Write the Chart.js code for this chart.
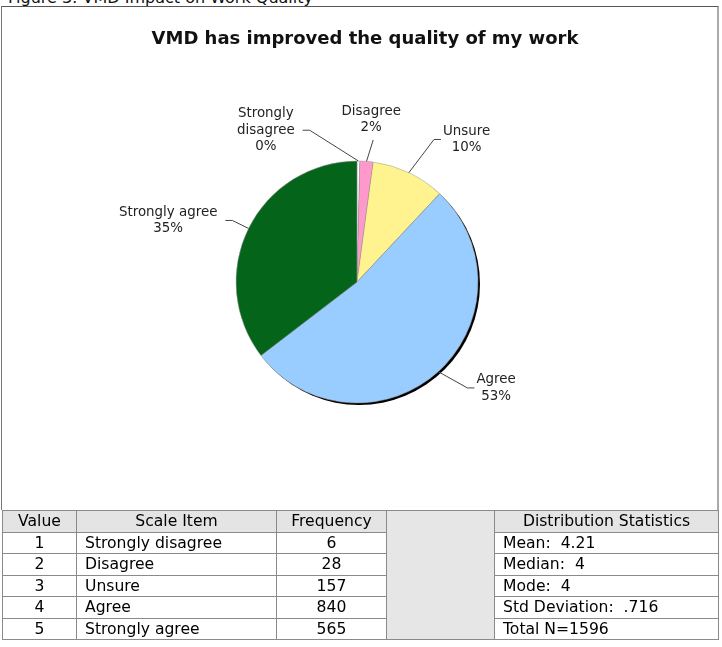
<!DOCTYPE html>
<html>
<head>
<meta charset="utf-8">
<script src="https://cdn.jsdelivr.net/npm/chart.js@4.4.1/dist/chart.umd.min.js"></script>
<style>
  html, body { margin: 0; padding: 0; background: #fff; }
  body { width: 722px; height: 647px; position: relative; overflow: hidden; font-family: "DejaVu Sans", sans-serif; }
  #caption { position: absolute; left: 8px; top: -10px; font-size: 16px; line-height: 16px; color: #111; white-space: nowrap; }
  #frame { position: absolute; left: 1px; top: 6px; width: 718px; height: 504px; border-top: 1px solid #555; border-left: 1px solid #777; border-right: 2px solid #aaa; box-sizing: border-box; }
  #pie { position: absolute; left: 0; top: 0; }
  #stats { position: absolute; left: 2px; top: 510px; border-collapse: collapse; table-layout: fixed; font-size: 15.6px; color: #000; }
  #stats td { border: 1px solid #8a8a8a; height: 20.5px; padding: 0; line-height: 20px; white-space: pre; overflow: hidden; }
  #stats .hd { background: #e4e4e4; text-align: center; }
  #stats .c { text-align: center; }
  #stats .l { padding-left: 8px; }
  #stats .blank { background: #e6e6e6; }
</style>
</head>
<body>
<div id="caption">Figure 3: VMD Impact on Work Quality</div>
<canvas id="pie" width="722" height="510"></canvas>
<div id="frame"></div>
<table id="stats"></table>
<script>
// survey data
var scaleValues = [1, 2, 3, 4, 5];
var scaleItems = ['Strongly disagree', 'Disagree', 'Unsure', 'Agree', 'Strongly agree'];
var frequencies = [6, 28, 157, 840, 565];
var pieLabels = [['Strongly', 'disagree'], ['Disagree'], ['Unsure'], ['Agree'], ['Strongly agree']];
var statLines = ['Mean:  4.21', 'Median:  4', 'Mode:  4', 'Std Deviation:  .716', 'Total N=1596'];
var tableHeaders = ['Value', 'Scale Item', 'Frequency', 'Distribution Statistics'];
var chartTitle = 'VMD has improved the quality of my work';

var sliceColors = ['#ffffff', '#ff99cc', '#fff38f', '#99ccff', '#04651a'];

// callout placement per slice (degrees of extra turn, px beyond the rim, where the text sits)
var calloutShift = [-18, 2, 3, -4, 0];
var calloutReach = [38, 22, 41, 32, 18];
var calloutSide = ['side', 'above', 'side', 'side', 'side'];

function buildTable() {
  var widths = [74, 200, 110, 108, 224];
  var html = '<colgroup>' + widths.map(function(w) { return '<col style="width:' + w + 'px">'; }).join('') + '</colgroup>';
  html += '<tr><td class="hd">' + tableHeaders[0] + '</td><td class="hd">' + tableHeaders[1] + '</td><td class="hd">' +
    tableHeaders[2] + '</td><td class="blank" rowspan="6"></td><td class="hd">' + tableHeaders[3] + '</td></tr>';
  for (var i = 0; i < scaleValues.length; i++) {
    html += '<tr><td class="c">' + scaleValues[i] + '</td><td class="l">' + scaleItems[i] + '</td><td class="c">' +
      frequencies[i] + '</td><td class="l">' + statLines[i] + '</td></tr>';
  }
  document.getElementById('stats').innerHTML = html;
}

var shadowPlugin = {
  id: 'pieShadow',
  beforeDatasetsDraw: function(chart) {
    var arc = chart.getDatasetMeta(0).data[0];
    if (!arc) return;
    var ctx = chart.ctx;
    ctx.save();
    ctx.fillStyle = '#000';
    ctx.beginPath();
    ctx.arc(arc.x + 2, arc.y + 2, arc.outerRadius, 0, Math.PI * 2);
    ctx.fill();
    ctx.restore();
  }
};

var calloutPlugin = {
  id: 'callouts',
  afterDatasetsDraw: function(chart) {
    var ctx = chart.ctx;
    var meta = chart.getDatasetMeta(0);
    var total = frequencies.reduce(function(a, b) { return a + b; }, 0);
    ctx.save();

    // title
    ctx.font = 'bold 18px "DejaVu Sans"';
    ctx.fillStyle = '#111';
    ctx.textAlign = 'center';
    ctx.textBaseline = 'middle';
    ctx.fillText(chartTitle, 365, 39);

    ctx.font = '13.4px "DejaVu Sans"';
    ctx.strokeStyle = '#444';
    ctx.lineWidth = 1;
    var lh = 16.5;
    meta.data.forEach(function(arc, i) {
      var mid = (arc.startAngle + arc.endAngle) / 2;
      var r = arc.outerRadius;
      var x0 = arc.x + Math.cos(mid) * r, y0 = arc.y + Math.sin(mid) * r;
      var a1 = mid + calloutShift[i] * Math.PI / 180;
      var r1 = r + calloutReach[i];
      var x1 = arc.x + Math.cos(a1) * r1, y1 = arc.y + Math.sin(a1) * r1;
      var lines = pieLabels[i].concat([Math.round(frequencies[i] / total * 100) + '%']);
      var w = Math.max.apply(null, lines.map(function(l) { return ctx.measureText(l).width; }));
      var x2 = x1, cx, cy;
      if (calloutSide[i] === 'above') {
        cx = x1 - 2;
        cy = y1 - 4 - lines.length * lh / 2;
      } else {
        var dir = x1 < arc.x ? -1 : 1;
        x2 = x1 + dir * 7;
        cx = x2 + dir * (w / 2 + (dir < 0 ? 8 : 2));
        cy = y1;
      }
      ctx.beginPath();
      ctx.moveTo(x0, y0);
      ctx.lineTo(x1, y1);
      ctx.lineTo(x2, y1);
      ctx.stroke();
      ctx.fillStyle = '#222';
      lines.forEach(function(l, k) {
        ctx.fillText(l, cx, cy + (k - (lines.length - 1) / 2) * lh);
      });
    });
    ctx.restore();
  }
};

function buildChart() {
  var ctx = document.getElementById('pie').getContext('2d');
  return new Chart(ctx, {
    type: 'pie',
    data: {
      labels: scaleItems,
      datasets: [{
        data: frequencies,
        backgroundColor: sliceColors,
        borderColor: '#9a9a9a',
        borderWidth: 0.5
      }]
    },
    options: {
      responsive: false,
      animation: false,
      radius: 121,
      layout: { padding: { left: 0, right: 8, top: 60, bottom: 6 } },
      plugins: {
        legend: { display: false },
        title: { display: false },
        tooltip: { enabled: false }
      }
    },
    plugins: [shadowPlugin, calloutPlugin]
  });
}

buildTable();
var pieChart = buildChart();
</script>
</body>
</html>
